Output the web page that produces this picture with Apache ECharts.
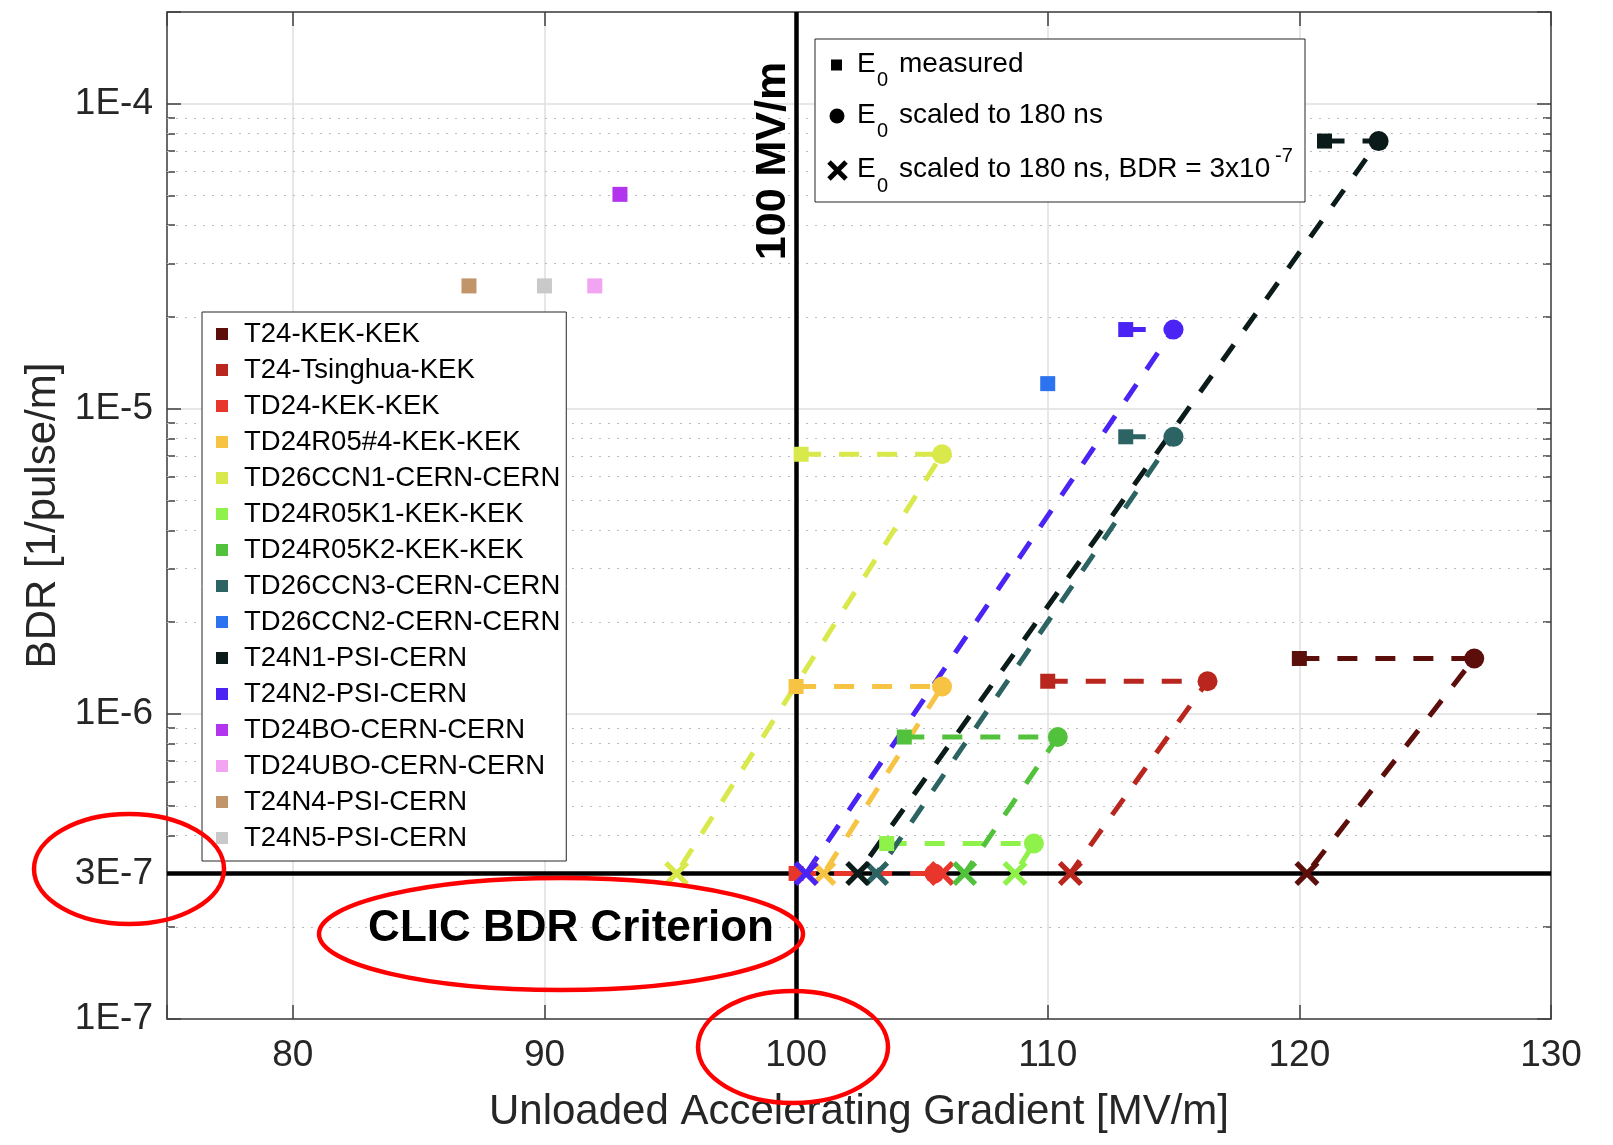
<!DOCTYPE html>
<html>
<head>
<meta charset="utf-8">
<title>BDR vs unloaded accelerating gradient</title>
<script src="https://cdn.jsdelivr.net/npm/echarts@6.0.0/dist/echarts.min.js"></script>
<style>
  html, body { margin: 0; padding: 0; background: #fff; }
  #chart { width: 1613px; height: 1145px; }
</style>
</head>
<body>
<div id="chart"></div>
<script>
"use strict";

// Structures, in legend order.
const NAMES = [
  "T24-KEK-KEK", "T24-Tsinghua-KEK", "TD24-KEK-KEK", "TD24R05#4-KEK-KEK",
  "TD26CCN1-CERN-CERN", "TD24R05K1-KEK-KEK", "TD24R05K2-KEK-KEK",
  "TD26CCN3-CERN-CERN", "TD26CCN2-CERN-CERN", "T24N1-PSI-CERN",
  "T24N2-PSI-CERN", "TD24BO-CERN-CERN", "TD24UBO-CERN-CERN",
  "T24N4-PSI-CERN", "T24N5-PSI-CERN",
];
const COLORS = [
  "#5c0e0b", "#b8261d", "#e9362c", "#f6c343", "#d9e94c", "#8ef24b", "#52c13b",
  "#2b6463", "#2b73ef", "#0b1b19", "#4b23f4", "#b334ee", "#f2a3f2",
  "#c1946a", "#c9c9c9",
];

// [gradient MV/m, BDR 1/pulse/m]; null where the stage is not plotted.
const MEASURED = [
  [120.0, 1.52e-6], [110.0, 1.28e-6], [100.0, 3.0e-7], [100.0, 1.23e-6],
  [100.2, 7.1e-6], [103.6, 3.76e-7], [104.3, 8.4e-7], [113.1, 8.1e-6],
  [110.0, 1.21e-5], [121.0, 7.55e-5], [113.1, 1.82e-5], [93.0, 5.05e-5],
  [92.0, 2.53e-5], [87.0, 2.53e-5], [90.0, 2.53e-5],
];
const SCALED_180NS = [
  [126.95, 1.52e-6], [116.35, 1.28e-6], [105.5, 3.0e-7], [105.8, 1.23e-6],
  [105.8, 7.1e-6], [109.45, 3.76e-7], [110.4, 8.4e-7], [115.0, 8.1e-6],
  null, [123.15, 7.55e-5], [115.0, 1.82e-5], null, null, null, null,
];
const AT_CRITERION = [
  [120.3, 3e-7], [110.9, 3e-7], [105.8, 3e-7], [101.1, 3e-7],
  [95.25, 3e-7], [108.7, 3e-7], [106.7, 3e-7], [103.2, 3e-7],
  null, [102.45, 3e-7], [100.4, 3e-7], null, null, null, null,
];

const X_MIN = 75, X_MAX = 130;
const Y_MIN = 1e-7, Y_MAX = 2e-4;
const BDR_CRITERION = 3e-7;
const GRADIENT_TARGET = 100;
const MINOR_MANTISSAS = [2, 3, 4, 5, 6, 7, 8, 9];
const MINOR_DECADES = [-7, -6, -5];

(() => {
  const FONT = "'Liberation Sans', Arial, Helvetica, sans-serif";
  const INK = "#262626", AXIS = "#404040", GRID = "#dfdfdf", MINOR = "#bdbdbd";
  const CROSS = "path://M0,15L15,0L50,35L85,0L100,15L65,50L100,85L85,100L50,65L15,100L0,85L35,50Z";

  const minorValues = [];
  for (const e of MINOR_DECADES) {
    for (const m of MINOR_MANTISSAS) minorValues.push(m * Math.pow(10, e));
  }

  const decadeLabel = (v) => {
    const e = Math.round(Math.log10(v));
    return Math.abs(v / Math.pow(10, e) - 1) < 1e-6 ? "1E" + e : "";
  };

  const deviceSeries = NAMES.map((name, i) => {
    const pts = [{ value: MEASURED[i], symbol: "rect", symbolSize: 15 }];
    if (SCALED_180NS[i]) pts.push({ value: SCALED_180NS[i], symbol: "circle", symbolSize: 20 });
    if (AT_CRITERION[i]) pts.push({ value: AT_CRITERION[i], symbol: CROSS, symbolSize: 25 });
    return {
      name, type: "line", data: pts, z: 10,
      xAxisIndex: 0, yAxisIndex: 0,
      itemStyle: { color: COLORS[i] },
      lineStyle: { color: COLORS[i], width: 5, type: [20, 18] },
      emphasis: { disabled: true },
    };
  });

  // Minor (dotted) log grid lines across the plot.
  const minorGridSeries = {
    type: "lines", coordinateSystem: "cartesian2d", xAxisIndex: 0, yAxisIndex: 0,
    silent: true, z: 1, polyline: false,
    lineStyle: { color: MINOR, width: 1, type: [2, 7], opacity: 1 },
    data: minorValues.filter((v) => Math.abs(v - BDR_CRITERION) > 1e-12)
      .map((v) => ({ coords: [[X_MIN, v], [X_MAX, v]] })),
  };

  // CLIC criterion lines: BDR = 3E-7 and 100 MV/m.
  const criterionSeries = {
    type: "lines", coordinateSystem: "cartesian2d", xAxisIndex: 0, yAxisIndex: 0,
    silent: true, z: 3, polyline: false, clip: false,
    lineStyle: { color: "#000", width: 4.5, type: "solid", opacity: 1 },
    label: { show: true, position: "start", distance: 14, color: INK, fontSize: 37,
             fontFamily: FONT, formatter: (p) => (p.dataIndex === 0 ? "3E-7" : "") },
    data: [
      { coords: [[X_MIN, BDR_CRITERION], [X_MAX, BDR_CRITERION]] },
      { coords: [[GRADIENT_TARGET, Y_MIN], [GRADIENT_TARGET, Y_MAX]] },
    ],
  };

  const plainAxis = {
    axisLine: { show: true, lineStyle: { color: AXIS, width: 1.5 } },
    axisTick: { show: true, inside: true, length: 14, lineStyle: { color: AXIS, width: 1.5 } },
  };
  const minorAxis = (position) => ({
    type: "value", position, min: Math.log10(Y_MIN), max: Math.log10(Y_MAX),
    axisLine: { show: false }, axisLabel: { show: false }, splitLine: { show: false },
    axisTick: { show: true, inside: true, length: 8,
                customValues: minorValues.map((v) => Math.log10(v)),
                lineStyle: { color: AXIS, width: 1.5 } },
  });

  const text = (x, y, str, size, extra) => ({
    type: "text", x, y, z: 100, silent: true,
    style: Object.assign({ text: str, fontSize: size, fontFamily: FONT, fill: "#000",
                           textAlign: "left", textVerticalAlign: "middle" }, extra || {}),
  });
  const ring = (cx, cy, rx, ry) => ({
    type: "ellipse", z: 100, silent: true, shape: { cx, cy, rx, ry },
    style: { fill: null, stroke: "#ff0000", lineWidth: 4.5 },
  });

  const option = {
    animation: false,
    backgroundColor: "#fff",
    textStyle: { fontFamily: FONT },
    grid: { left: 167, right: 62, top: 12, bottom: 126, containLabel: false },
    xAxis: [
      Object.assign({
        type: "value", position: "bottom", min: X_MIN, max: X_MAX,
        name: "Unloaded Accelerating Gradient [MV/m]", nameLocation: "middle", nameGap: 72,
        nameTextStyle: { color: INK, fontSize: 42, fontFamily: FONT },
        axisLabel: { color: INK, fontSize: 37, margin: 18, fontFamily: FONT,
                     formatter: (v) => (v % 10 === 0 ? String(v) : "") },
        splitLine: { show: true, lineStyle: { color: GRID, width: 1.5 } },
      }, plainAxis),
      Object.assign({
        type: "value", position: "top", min: X_MIN, max: X_MAX,
        axisLabel: { show: false }, splitLine: { show: false },
      }, plainAxis),
    ],
    yAxis: [
      Object.assign({
        type: "log", logBase: 10, position: "left", min: Y_MIN, max: Y_MAX,
        name: "BDR [1/pulse/m]", nameLocation: "middle", nameGap: 103,
        nameTextStyle: { color: INK, fontSize: 42, fontFamily: FONT },
        axisLabel: { color: INK, fontSize: 37, margin: 14, fontFamily: FONT, formatter: decadeLabel },
        splitLine: { show: true, lineStyle: { color: GRID, width: 1.5 } },
      }, plainAxis),
      Object.assign({
        type: "log", logBase: 10, position: "right", min: Y_MIN, max: Y_MAX,
        axisLabel: { show: false }, splitLine: { show: false },
      }, plainAxis),
      minorAxis("left"),
      minorAxis("right"),
    ],
    legend: {
      data: NAMES, orient: "vertical", left: 202, top: 312, z: 6,
      icon: "rect", itemWidth: 12, itemHeight: 12, itemGap: 8,
      padding: [8, 6, 9, 14], selectedMode: false,
      backgroundColor: "#fff", borderColor: INK, borderWidth: 1,
      textStyle: { color: "#000", fontSize: 27.5, lineHeight: 27.5, fontFamily: FONT,
                   padding: [0, 0, 0, 11] },
    },
    graphic: [
      // marker key
      { type: "rect", z: 90, silent: true, shape: { x: 815, y: 39, width: 490, height: 163 },
        style: { fill: "#fff", stroke: INK, lineWidth: 1 } },
      { type: "rect", z: 100, silent: true, shape: { x: 831, y: 59.5, width: 11, height: 11 },
        style: { fill: "#000" } },
      { type: "circle", z: 100, silent: true, shape: { cx: 837, cy: 116, r: 7.5 },
        style: { fill: "#000" } },
      { type: "line", z: 100, silent: true, shape: { x1: 829, y1: 162, x2: 846, y2: 179 },
        style: { stroke: "#000", lineWidth: 5 } },
      { type: "line", z: 100, silent: true, shape: { x1: 846, y1: 162, x2: 829, y2: 179 },
        style: { stroke: "#000", lineWidth: 5 } },
      text(857, 64, "E", 28), text(877, 80, "0", 20), text(899, 64, "measured", 28),
      text(857, 115, "E", 28), text(877, 131, "0", 20), text(899, 115, "scaled to 180 ns", 28),
      text(857, 169, "E", 28), text(877, 186, "0", 20),
      text(899, 169, "scaled to 180 ns, BDR = 3x10", 28), text(1275, 156, "-7", 20),
      // annotations
      Object.assign(text(773, 161, "100 MV/m", 43, { fontWeight: "bold", textAlign: "center" }),
                    { rotation: Math.PI / 2 }),
      text(571, 929, "CLIC BDR Criterion", 44, { fontWeight: "bold", textAlign: "center" }),
      ring(129, 869, 95, 55),
      ring(561, 934, 242, 56),
      ring(793, 1047, 95, 56),
    ],
    series: [minorGridSeries, criterionSeries, ...deviceSeries],
  };

  const chart = echarts.init(document.getElementById("chart"), null, { renderer: "canvas" });
  chart.setOption(option);
})();
</script>
</body>
</html>
